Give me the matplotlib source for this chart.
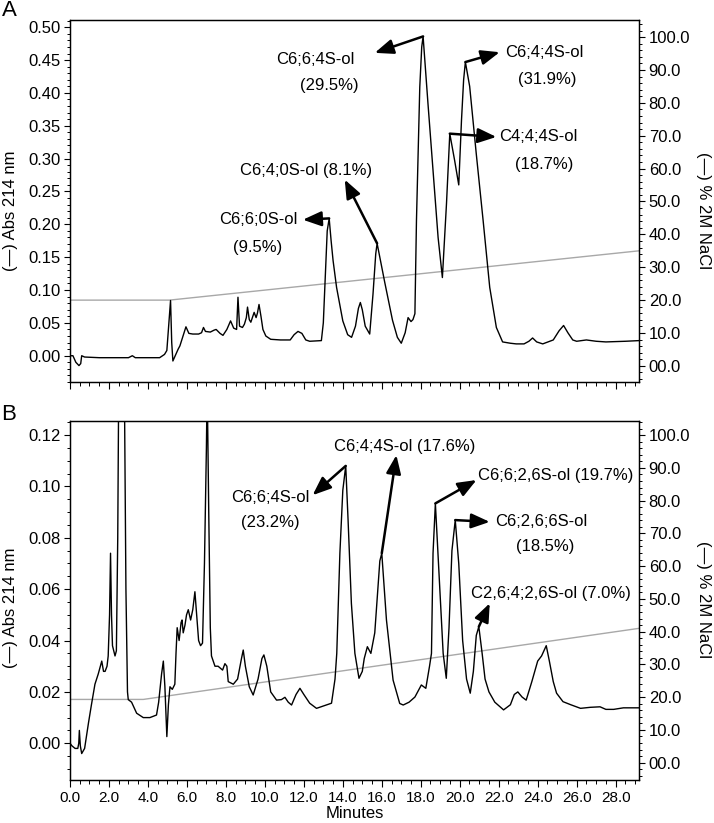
import numpy as np
import matplotlib
matplotlib.use("Agg")
import matplotlib.pyplot as plt
from matplotlib.ticker import MultipleLocator, FormatStrFormatter

plt.rcParams['font.family'] = ['Liberation Sans', 'DejaVu Sans']

# ---- panel A : retention time (min) / absorbance 214 nm ----
time_a = [0.0, 0.15, 0.30, 0.46, 0.55, 0.60, 0.75, 1.5, 3.0, 3.2, 3.35, 4.6, 4.85, 4.97,
          5.10, 5.16, 5.22, 5.28, 5.40, 5.55, 5.64, 5.80, 5.95, 6.10, 6.30, 6.60, 6.75,
          6.85, 6.95, 7.20, 7.40, 7.50, 7.70, 7.85, 8.05, 8.24, 8.40, 8.55, 8.62, 8.70,
          8.85, 8.95, 9.05, 9.11, 9.20, 9.28, 9.45, 9.55, 9.62, 9.70, 9.80, 9.90, 10.05,
          10.30, 10.80, 11.30, 11.50, 11.70, 11.90, 12.10, 12.30, 12.90, 13.00, 13.10,
          13.20, 13.30, 13.40, 13.50, 13.68, 14.00, 14.25, 14.45, 14.65, 14.80, 14.90,
          15.00, 15.15, 15.38, 15.55, 15.69, 15.76, 15.90, 16.15, 16.55, 16.80, 17.00,
          17.20, 17.35, 17.50, 17.60, 17.70, 17.78, 17.95, 18.05, 18.12, 18.37, 18.63,
          18.89, 19.11, 19.32, 19.49, 19.60, 19.74, 19.95, 20.09, 20.20, 20.29, 20.51,
          20.85, 21.20, 21.54, 21.88, 22.20, 22.60, 22.90, 23.30, 23.55, 23.74, 23.95,
          24.26, 24.80, 25.10, 25.33, 25.55, 25.80, 26.00, 26.50, 27.00, 27.50, 28.50, 29.20]
abs_a = [0.000, 0.000, -0.010, -0.015, -0.012, 0.000, -0.002, -0.003, -0.003, 0.000, -0.003,
         -0.003, 0.002, 0.008, 0.060, 0.084, 0.020, -0.008, 0.000, 0.010, 0.015, 0.030, 0.044,
         0.034, 0.033, 0.033, 0.035, 0.043, 0.037, 0.036, 0.039, 0.040, 0.034, 0.031, 0.040,
         0.053, 0.042, 0.040, 0.089, 0.045, 0.043, 0.048, 0.058, 0.074, 0.055, 0.051, 0.066,
         0.058, 0.065, 0.078, 0.060, 0.040, 0.030, 0.025, 0.024, 0.024, 0.032, 0.037, 0.034,
         0.024, 0.022, 0.023, 0.050, 0.120, 0.190, 0.209, 0.175, 0.145, 0.104, 0.053, 0.032,
         0.028, 0.045, 0.072, 0.081, 0.070, 0.045, 0.033, 0.094, 0.155, 0.171, 0.150, 0.112,
         0.054, 0.028, 0.019, 0.035, 0.058, 0.052, 0.055, 0.064, 0.206, 0.409, 0.470, 0.486,
         0.384, 0.282, 0.180, 0.119, 0.231, 0.338, 0.320, 0.297, 0.260, 0.358, 0.420, 0.447,
         0.410, 0.307, 0.206, 0.104, 0.043, 0.021, 0.019, 0.018, 0.018, 0.022, 0.027, 0.021,
         0.018, 0.024, 0.038, 0.046, 0.035, 0.024, 0.022, 0.024, 0.022, 0.021, 0.022, 0.023]
grad_time_a = [0.0, 5.1, 29.2]
grad_pct_a = [20.0, 20.0, 35.0]

# ---- panel B ----
time_b = [0.00, 0.10, 0.26, 0.40, 0.45, 0.48, 0.53, 0.60, 0.75, 0.95, 1.10, 1.28, 1.45, 1.63,
          1.72, 1.80, 1.90, 1.96, 2.03, 2.08, 2.13, 2.18, 2.31, 2.38, 2.45, 2.55, 2.65, 2.78,
          2.87, 2.95, 2.99, 3.16, 3.42, 3.76, 4.10, 4.44, 4.55, 4.70, 4.79, 4.87, 4.92, 4.97,
          5.05, 5.13, 5.25, 5.38, 5.44, 5.50, 5.60, 5.70, 5.75, 5.81, 5.90, 5.98, 6.07, 6.19,
          6.30, 6.41, 6.50, 6.60, 6.70, 6.80, 6.90, 7.00, 7.04, 7.12, 7.20, 7.26, 7.44, 7.60,
          7.83, 7.95, 8.05, 8.12, 8.38, 8.60, 8.80, 8.89, 9.00, 9.20, 9.40, 9.65, 9.85, 9.95,
          10.10, 10.30, 10.60, 10.85, 11.03, 11.20, 11.37, 11.60, 11.80, 12.00, 12.30, 12.65,
          13.00, 13.42, 13.60, 13.69, 13.85, 14.00, 14.15, 14.27, 14.44, 14.62, 14.83, 15.00,
          15.10, 15.26, 15.44, 15.64, 15.90, 16.00, 16.24, 16.58, 16.92, 17.10, 17.40, 17.70,
          18.03, 18.26, 18.45, 18.55, 18.63, 18.75, 18.97, 19.15, 19.31, 19.45, 19.60, 19.77,
          19.95, 20.15, 20.35, 20.54, 20.70, 20.85, 20.98, 21.15, 21.30, 21.50, 21.80, 22.25,
          22.60, 22.80, 22.98, 23.20, 23.41, 23.70, 24.00, 24.20, 24.44, 24.60, 24.80, 24.97,
          25.30, 25.70, 26.20, 26.70, 27.20, 27.50, 27.90, 28.40, 29.20]
abs_b = [0.000, -0.001, -0.002, -0.002, 0.000, 0.005, -0.001, -0.004, -0.002, 0.008, 0.015,
         0.023, 0.027, 0.032, 0.028, 0.028, 0.030, 0.034, 0.050, 0.074, 0.050, 0.038, 0.034,
         0.036, 0.080, 0.200, 0.280, 0.150, 0.060, 0.020, 0.017, 0.016, 0.0117, 0.010, 0.010,
         0.011, 0.016, 0.027, 0.032, 0.022, 0.012, 0.0026, 0.015, 0.022, 0.021, 0.023, 0.035,
         0.045, 0.040, 0.047, 0.048, 0.043, 0.046, 0.050, 0.052, 0.048, 0.052, 0.059, 0.050,
         0.040, 0.038, 0.039, 0.070, 0.115, 0.140, 0.090, 0.045, 0.034, 0.030, 0.030, 0.0285,
         0.031, 0.030, 0.024, 0.023, 0.025, 0.033, 0.0363, 0.030, 0.022, 0.0188, 0.025, 0.033,
         0.0344, 0.030, 0.020, 0.0168, 0.0170, 0.0179, 0.016, 0.0149, 0.019, 0.0214, 0.019,
         0.0156, 0.0136, 0.0145, 0.0156, 0.025, 0.035, 0.074, 0.0985, 0.108, 0.087, 0.0545,
         0.035, 0.0253, 0.028, 0.033, 0.0376, 0.035, 0.043, 0.071, 0.074, 0.048, 0.0246,
         0.0155, 0.0149, 0.016, 0.018, 0.0227, 0.0214, 0.030, 0.035, 0.074, 0.0934, 0.061,
         0.035, 0.0253, 0.045, 0.075, 0.0869, 0.070, 0.040, 0.025, 0.0195, 0.028, 0.042,
         0.0454, 0.035, 0.025, 0.020, 0.016, 0.013, 0.015, 0.019, 0.020, 0.018, 0.0168, 0.024,
         0.032, 0.034, 0.038, 0.032, 0.024, 0.0195, 0.0162, 0.015, 0.0136, 0.0140, 0.0142,
         0.0132, 0.0132, 0.0138, 0.0138]
grad_time_b = [0.0, 3.76, 29.2]
grad_pct_b = [19.3, 19.3, 41.0]

# ---- peak labels ----
labels_a = ["C6;6;0S-ol", "C6;4;0S-ol (8.1%)", "C6;6;4S-ol", "C6;4;4S-ol", "C4;4;4S-ol"]
pcts_a = ["(9.5%)", "", "(29.5%)", "(31.9%)", "(18.7%)"]
peaks_a = [13.30, 15.76, 18.12, 20.29, 19.49]
# arrow tip, label line 1, label line 2 (data coords of left axis)
layout_a = [((11.95, 0.207), (9.64, 0.207), (9.64, 0.165)),
            ((14.10, 0.268), (12.10, 0.282), None),
            ((15.64, 0.461), (12.60, 0.451), (13.33, 0.411)),
            ((22.05, 0.462), (24.36, 0.462), (24.50, 0.421)),
            ((21.88, 0.333), (24.05, 0.333), (24.36, 0.291))]

labels_b = ["C6;6;4S-ol", "C6;4;4S-ol (17.6%)", "C6;6;2,6S-ol (19.7%)", "C6;2,6;6S-ol",
            "C2,6;4;2,6S-ol (7.0%)"]
pcts_b = ["(23.2%)", "", "", "(18.5%)", ""]
peaks_b = [14.15, 16.00, 18.75, 19.77, 20.98]
layout_b = [((12.45, 0.0966), (10.30, 0.0958), (10.28, 0.0861)),
            ((16.75, 0.1122), (17.20, 0.1157), None),
            ((20.86, 0.1025), (24.90, 0.1044), None),
            ((21.54, 0.0862), (24.19, 0.0862), (24.40, 0.0765)),
            ((21.54, 0.0545), (24.70, 0.0584), None)]

W, H = 714, 823
fig = plt.figure(figsize=(W / 100, H / 100), dpi=100)


def panel(box, t, a, gt, gp, ylim, ylim2, ymaj, ymin, yfmt, labels, pcts, peaks, layout,
          show_x, ylab_y, rlab_y):
    ax = fig.add_axes(box)
    ax2 = ax.twinx()
    ax.set_zorder(ax2.get_zorder() + 1)
    ax.patch.set_visible(False)

    ax2.plot(gt, gp, color='#a8a8a8', lw=1.0)
    ax.plot(t, a, color='black', lw=1.0)

    ax.set_xlim(0, 29.2)
    ax.set_ylim(*ylim)
    ax2.set_ylim(*ylim2)

    ax.xaxis.set_major_locator(MultipleLocator(2))
    ax.xaxis.set_minor_locator(MultipleLocator(0.5))
    ax.xaxis.set_major_formatter(FormatStrFormatter('%.1f'))
    ax.yaxis.set_major_locator(MultipleLocator(ymaj))
    ax.yaxis.set_minor_locator(MultipleLocator(ymin))
    ax.yaxis.set_major_formatter(FormatStrFormatter(yfmt))
    ax2.yaxis.set_major_locator(MultipleLocator(10))
    ax2.yaxis.set_minor_locator(MultipleLocator(2))
    ax2.yaxis.set_major_formatter(FormatStrFormatter('%04.1f'))

    ax.tick_params(axis='y', which='major', length=4, width=0.8, labelsize=12, pad=3)
    ax.tick_params(axis='y', which='minor', length=2.2, width=0.7)
    ax.tick_params(axis='x', which='major', length=5, width=0.8, labelsize=11, pad=3,
                   labelbottom=show_x)
    ax.tick_params(axis='x', which='minor', length=3, width=0.7)
    ax2.tick_params(axis='y', which='major', length=4, width=0.8, labelsize=12, pad=3)
    ax2.tick_params(axis='y', which='minor', length=2.2, width=0.7)
    for sp in list(ax.spines.values()) + list(ax2.spines.values()):
        sp.set_linewidth(0.9)

    ax.text(-0.105, ylab_y, "(\u2014) Abs 214 nm", transform=ax.transAxes, rotation=90,
            ha='center', va='center', fontsize=12)
    ax.text(1.114, rlab_y, "(\u2014) % 2M NaCl", transform=ax.transAxes, rotation=-90,
            ha='center', va='center', fontsize=12)

    for lab, pct, pk, (tip, p1, p2) in zip(labels, pcts, peaks, layout):
        tail = (pk, np.interp(pk, t, a))
        ax.annotate('', xy=tip, xytext=tail,
                    arrowprops=dict(arrowstyle='-|>,head_length=0.8,head_width=0.32',
                                    lw=1.8, color='black', shrinkA=0, shrinkB=0,
                                    mutation_scale=14))
        ax.text(p1[0], p1[1], lab, ha='center', va='center', fontsize=12)
        if p2 is not None:
            ax.text(p2[0], p2[1], pct, ha='center', va='center', fontsize=12)
    return ax


ax_a = panel([70 / W, 1 - 382 / H, 569 / W, 362 / H], time_a, abs_a, grad_time_a, grad_pct_a,
             (-0.04, 0.511), (-4.9, 105.2), 0.05, 0.01, '%.2f', labels_a, pcts_a, peaks_a,
             layout_a, False, 0.472, 0.475)
ax_b = panel([70 / W, 1 - 780 / H, 569 / W, 359.3 / H], time_b, abs_b, grad_time_b, grad_pct_b,
             (-0.0143, 0.1256), (-5.3, 104.4), 0.02, 0.005, '%.2f', labels_b, pcts_b, peaks_b,
             layout_b, True, 0.479, 0.501)
ax_b.set_xlabel("Minutes", fontsize=12, labelpad=1)

fig.text(9.5 / W, 1 - 11 / H, "A", fontsize=16, ha='center', va='center')
fig.text(9 / W, 1 - 415 / H, "B", fontsize=16, ha='center', va='center')

fig.savefig("out.png", dpi=100)
